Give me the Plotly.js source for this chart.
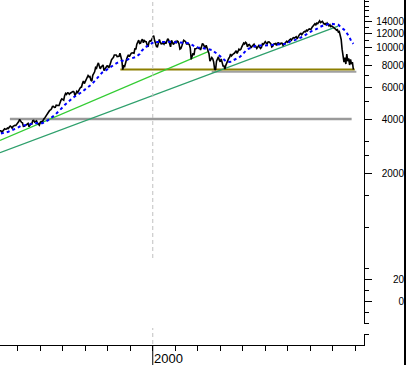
<!DOCTYPE html>
<html><head><meta charset="utf-8">
<script src="https://cdn.plot.ly/plotly-3.0.1.min.js"></script>
<style>html,body{margin:0;padding:0;background:#fff;overflow:hidden}#chart{width:406px;height:365px}</style>
</head><body><div id="chart"></div>
<script>
// Index closes sampled twice a month, starting mid-March 1993
const priceStart = 1993 + 5 / 24;
const pricePerYear = 24;
const djia = [
  3440,3435, 3370,3428, 3480,3527, 3510,3516, 3560,3540, 3610,3651, 3620,3555, 3640,3681, 3690,3684, 3740,3754,
  3870,3978, 3890,3832, 3810,3636, 3640,3682, 3700,3758, 3780,3625, 3700,3765, 3760,3913, 3930,3843, 3880,3908, 3800,3739, 3700,3834,
  3870,3843, 3960,4011, 4070,4158, 4210,4321, 4400,4465, 4500,4556, 4700,4709, 4640,4650, 4780,4789, 4760,4756, 4970,5075, 5180,5117,
  5100,5395, 5550,5486, 5600,5587, 5500,5569, 5620,5643, 5700,5655, 5400,5529, 5700,5616, 5800,5882, 6000,6029, 6300,6522, 6300,6448,
  6700,6813, 6990,6878, 6900,6584, 6500,7009, 7200,7331, 7750,7673, 8000,8223, 7900,7622, 7800,7945, 8000,7442, 7600,7823, 7900,7908,
  7700,7907, 8400,8546, 8700,8800, 9100,9063, 9100,8900, 8900,8952, 9300,8883, 8500,7539, 7900,7843, 8100,8592, 8900,9117, 8900,9181,
  9300,9359, 9300,9307, 9900,9786, 10450,10789, 11000,10560, 10600,10971, 11150,10655, 10950,10829, 10800,10337, 10100,10729, 10900,10878, 11200,11497,
  11650,10941, 10500,10128, 10100,10922, 11100,10734, 10500,10522, 10600,10448, 10750,10522, 11050,11215, 11000,10651, 10100,10971, 10600,10415, 10600,10787,
  10600,10887, 10800,10495, 9800,9879, 10200,10735, 11000,10912, 10800,10502, 10500,10523, 10400,9950, 8600,8848, 9300,9075, 9850,9852, 9900,10022,
  9900,9920, 9700,10106, 10550,10404, 10250,9946, 10300,9925, 9500,9243, 8400,8737, 8800,8664, 8300,7592, 7500,8397, 8600,8896, 8500,8342,
  8650,8054, 7900,7891, 7600,7992, 8300,8480, 8700,8850, 9200,8985, 9150,9234, 9300,9416, 9600,9275, 9700,9801, 9700,9782, 10100,10454,
  10600,10488, 10700,10584, 10100,10358, 10400,10226, 9950,10188, 10400,10435, 10100,10140, 9900,10174, 10250,10080, 9900,10027, 10500,10428, 10700,10783,
  10600,10490, 10750,10766, 10650,10504, 10100,10193, 10450,10467, 10550,10275, 10600,10641, 10550,10482, 10600,10569, 10300,10440, 10700,10806, 10850,10718,
  10950,11050, 11150,11000, 11250,11350, 11300,11450, 11500,11200, 11600,11700, 11900,12000, 11800,12100, 12200,12300, 12250,12500, 12400,12600, 12700,12650,
  12700,13000, 13200,13500, 13600,13400, 13700,13600, 14000,14100, 13800,13900, 14000,13700, 13500,13600, 13400,13700, 13300,13200, 13400,13100, 13200,13000,
  12900,12800, 12700,12500, 12600,12200, 12300,11700, 11100,9800, 8900,8300, 8800,8100, 9200,8400, 8700,8000, 8600,8100, 8300,7550
];
// 40-week moving average, month ends from March 1993
const maStart = 1993 + 3 / 12;
const maPerYear = 12;
const ma40 = [
  3319,3330,3343,3369,3396,3438,3463,3501,3539,3577,
  3631,3672,3683,3699,3721,3719,3740,3763,3779,3794,3770,3770,
  3791,3824,3864,3934,4004,4068,4154,4229,4334,4426,4549,4660,
  4783,4900,5012,5113,5207,5307,5381,5467,5548,5639,5752,5848,
  5971,6102,6196,6331,6511,6717,6951,7110,7253,7352,7453,7556,
  7688,7842,7989,8128,8196,8329,8422,8432,8434,8503,8624,8687,
  8743,8767,8856,9040,9207,9551,9832,10055,10177,10332,10484,10703,
  10819,10753,10789,10765,10752,10714,10732,10781,10758,10705,10653,10719,
  10715,10691,10627,10656,10695,10623,10611,10509,10352,10181,10077,10030,
  10034,9971,9920,9865,9805,9734,9723,9682,9456,9293,9191,9015,
  8780,8574,8381,8305,8316,8348,8512,8614,8652,8798,8971,9227,
  9477,9687,9838,9962,10057,10159,10246,10283,10313,10270,10264,10284,
  10297,10351,10383,10359,10391,10401,10457,10503,10517,10483,10514,10510,
  10800,10850,10950,11050,11150,11250,11350,11500,11700,11900,12100,12300,
  12400,12500,12600,12800,13000,13200,13300,13400,13500,13600,13600,13550,
  13500,13500,13400,13100,12900,12600,12300,11900,11400,10800,10500
];
// trend lines (two end points each)
const trendFastX = [1993.21, 2002.46];
const trendFastY = [3036, 9490];
const trendSlowX = [1993.21, 2008.24];
const trendSlowY = [2595, 13181];
// horizontal support levels
const level1X = [1993.65, 2008.84]; const level1Y = [4000, 4000];
const level2X = [1998.56, 2008.98]; const level2Y = [7540, 7540];
const level3X = [2002.62, 2009.05]; const level3Y = [7340, 7340];
// axis ticks
const yearTicks = [1994,1995,1996,1997,1998,1999,2000,2001,2002,2003,2004,2005,2006,2007,2008,2009];
const yearLabel = '2000';
const priceMajor = [2000,4000,6000,8000,10000,12000,14000];
const priceLabels = ['2000','4000','6000','8000','10000','12000','14000'];
const priceMinor = [1000,1500,2500,3000,5000,7000,9000,11000,13000,15000,16000,17000,18000,19000];
const oscMajor = [20, 0];
const oscLabels = ['20', '0'];
const oscMinor = [30, 10, -10, -20];

const px = djia.map((_, i) => priceStart + i / pricePerYear);
const mx = ma40.map((_, i) => maStart + i / maPerYear);

const W = 406, H = 365, B = 20, PH = H - B;
const upBot = 262, loBot = 323.5, b3Top = 334;
const fy = p => (PH - p) / PH;
const logRange = [2.805, 4.2654];
const font = {family: 'Liberation Sans, Arial, sans-serif', size: 10, color: '#000'};

const traces = [
  {x: level1X, y: level1Y, mode: 'lines', line: {color: '#9a9a9a', width: 2.5}, yaxis: 'y'},
  {x: level3X, y: level3Y, mode: 'lines', line: {color: '#a0a0a0', width: 2}, yaxis: 'y'},
  {x: level2X, y: level2Y, mode: 'lines', line: {color: '#8c7f00', width: 2}, yaxis: 'y'},
  {x: trendFastX, y: trendFastY, mode: 'lines', line: {color: '#33cc33', width: 1.3}, yaxis: 'y'},
  {x: trendSlowX, y: trendSlowY, mode: 'lines', line: {color: '#2ea06c', width: 1.3}, yaxis: 'y'},
  {x: px, y: djia, mode: 'lines', line: {color: '#000', width: 1.6}, yaxis: 'y'},
  {x: mx, y: ma40, mode: 'lines', line: {color: '#0000ff', width: 2, dash: '3px,3px'}, yaxis: 'y'},
  {x: [], y: [], yaxis: 'y2', mode: 'lines'},
  {x: [], y: [], yaxis: 'y3', mode: 'lines'},
  {x: [], y: [], yaxis: 'y4', mode: 'lines'},
  {x: [], y: [], yaxis: 'y5', mode: 'lines'},
  {x: [], y: [], yaxis: 'y6', mode: 'lines'},
  {x: [], y: [], yaxis: 'y7', mode: 'lines'}
];

const baseY = {showgrid: false, zeroline: false, fixedrange: true, tickfont: font};
const layout = {
  width: W, height: H,
  margin: {l: 0, r: 0, t: 0, b: B, pad: 0},
  paper_bgcolor: '#fff', plot_bgcolor: '#fff',
  showlegend: false, hovermode: false,
  font: font,
  xaxis: {domain: [0, 364 / W], range: [1993.21, 2009.39], anchor: 'y3',
    tickmode: 'array', tickvals: yearTicks, showticklabels: false,
    ticks: 'outside', ticklen: 5, tickcolor: '#000', tickwidth: 1,
    showline: true, linecolor: '#000', linewidth: 1, showgrid: false, zeroline: false},
  yaxis: Object.assign({}, baseY, {domain: [fy(upBot), 1], type: 'log', range: logRange, anchor: 'x', side: 'right',
    tickmode: 'array', tickvals: priceMajor, ticks: 'outside', ticklen: 7, tickcolor: '#000',
    showticklabels: false, showline: true, linecolor: '#000', linewidth: 1}),
  yaxis4: Object.assign({}, baseY, {overlaying: 'y', type: 'log', range: logRange, anchor: 'x', side: 'right',
    tickmode: 'array', tickvals: priceMinor, ticks: 'outside', ticklen: 4, tickcolor: '#000',
    showticklabels: false, showline: false}),
  yaxis5: Object.assign({}, baseY, {overlaying: 'y', type: 'log', range: logRange, anchor: 'free', position: 404 / W, side: 'left',
    tickmode: 'array', tickvals: priceMajor, ticktext: priceLabels, ticks: '', showline: false}),
  yaxis2: Object.assign({}, baseY, {domain: [fy(loBot), fy(upBot)], range: [-20, 36.4], anchor: 'x', side: 'right',
    tickmode: 'array', tickvals: oscMajor, ticks: 'outside', ticklen: 7, tickcolor: '#000',
    showticklabels: false, showline: true, linecolor: '#000', linewidth: 1}),
  yaxis6: Object.assign({}, baseY, {overlaying: 'y2', range: [-20, 36.4], anchor: 'x', side: 'right',
    tickmode: 'array', tickvals: oscMinor, ticks: 'outside', ticklen: 4, tickcolor: '#000',
    showticklabels: false, showline: false}),
  yaxis7: Object.assign({}, baseY, {overlaying: 'y2', range: [-20, 36.4], anchor: 'free', position: 404 / W, side: 'left',
    tickmode: 'array', tickvals: oscMajor, ticktext: oscLabels, ticks: '', showline: false}),
  yaxis3: Object.assign({}, baseY, {domain: [0, fy(b3Top)], range: [0, 1], anchor: 'x', side: 'right',
    tickmode: 'array', tickvals: [1], ticks: 'outside', ticklen: 4, tickcolor: '#000',
    showticklabels: false, showline: true, linecolor: '#000', linewidth: 1}),
  annotations: [
    {text: yearLabel, xref: 'x', x: 2000, xanchor: 'left', xshift: -1,
      yref: 'paper', y: fy(358.5), yanchor: 'middle', showarrow: false,
      font: {family: 'Liberation Sans, Arial, sans-serif', size: 13, color: '#000'}}
  ],
  shapes: [
    {type: 'line', xref: 'x', yref: 'paper', x0: 2000, x1: 2000, y0: fy(258), y1: 1,
      line: {color: '#c0c0c0', width: 1, dash: '4px,3px'}},
    {type: 'line', xref: 'x', yref: 'paper', x0: 2000, x1: 2000, y0: fy(344), y1: fy(328),
      line: {color: '#c0c0c0', width: 1, dash: '4px,3px'}},
    {type: 'line', xref: 'x', yref: 'paper', x0: 2000, x1: 2000, y0: 0, y1: -20 / PH,
      line: {color: '#000', width: 1}},
    {type: 'line', xref: 'paper', yref: 'paper', x0: 405 / W, x1: 405 / W, y0: -B / PH, y1: 1,
      line: {color: '#000', width: 2}}
  ]
};
Plotly.newPlot('chart', traces, layout, {staticPlot: true, displayModeBar: false});
</script>
</body></html>
